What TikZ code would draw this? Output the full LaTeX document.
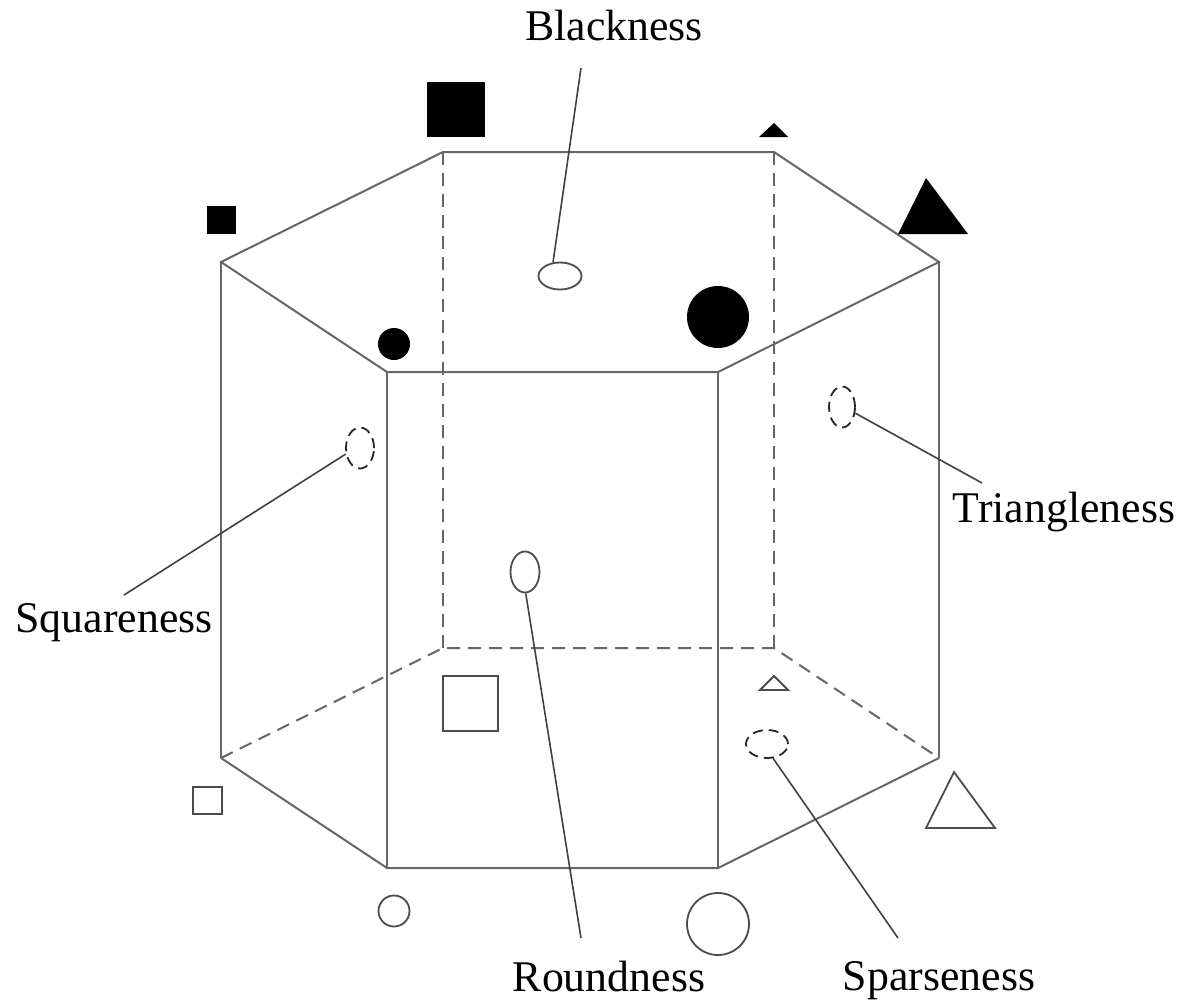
\documentclass[tikz,border=0pt]{standalone}
\usepackage{fontspec}
\setmainfont{Liberation Serif}
\usetikzlibrary{shapes.geometric}
\begin{document}
\begin{tikzpicture}[x=1pt,y=-1pt,
  edge/.style={draw=black!60, line width=2pt, line join=miter},
  hidden/.style={edge, dash pattern=on 13pt off 8pt},
  leader/.style={draw=black!75, line width=1.6pt},
  probe/.style={ellipse, draw=black!70, line width=1.8pt, inner sep=0pt, fill=white},
  hprobe/.style={probe, draw=black!85, dash pattern=on 10pt off 6pt},
  lbl/.style={anchor=base, font=\fontsize{43.8}{50}\selectfont, inner sep=0pt},
  solidmark/.style={fill=black},
  openmark/.style={draw=black!70, line width=1.8pt, fill=white}]
\useasboundingbox (0,0) rectangle (1200,1004);

% prism corners: top face and bottom face
\coordinate (tL)  at (221,262);
\coordinate (tBL) at (443,152);
\coordinate (tBR) at (774,152);
\coordinate (tR)  at (939,262);
\coordinate (tFR) at (718,372);
\coordinate (tFL) at (387,372);
\coordinate (bL)  at (221,758);
\coordinate (bBL) at (443,648);
\coordinate (bBR) at (774,648);
\coordinate (bR)  at (939,758);
\coordinate (bFR) at (718,868);
\coordinate (bFL) at (387,868);

% hidden edges
\draw[hidden] (tBL) -- (bBL);
\draw[hidden] (tBR) -- (bBR);
\draw[hidden] (bL) -- (bBL) -- (bBR) -- (bR);

% visible edges
\draw[edge] (tL) -- (tBL) -- (tBR) -- (tR) -- (tFR) -- (tFL) -- cycle;
\draw[edge] (tL) -- (bL);
\draw[edge] (tFL) -- (bFL);
\draw[edge] (tFR) -- (bFR);
\draw[edge] (tR) -- (bR);
\draw[edge] (bL) -- (bFL) -- (bFR) -- (bR);

% filled markers at the top
\fill[solidmark] (427,82) rectangle (485,137);
\fill[solidmark] (207,206) rectangle (236,234);
\fill[solidmark] (759,137) -- (788,137) -- (774,123) -- cycle;
\fill[solidmark] (898,234) -- (968,234) -- (926,178) -- cycle;
\fill[solidmark] (394,344) circle[radius=16];
\fill[solidmark] (718,317) circle[radius=31];

% open markers at the bottom
\draw[openmark] (443,676) rectangle (498,731);
\draw[openmark] (193,787) rectangle (222,814);
\draw[openmark] (760,690) -- (788,690) -- (774,676) -- cycle;
\draw[openmark] (926,828) -- (995,828) -- (954,772) -- cycle;
\draw[openmark] (394,911) circle[radius=15.5];
\draw[openmark] (718,924) circle[radius=31];

% probes on the faces
\node[probe,  minimum width=43pt, minimum height=27pt] (bk) at (560,276) {};
\node[probe,  minimum width=29pt, minimum height=41pt] (rd) at (525,572) {};
\node[hprobe, minimum width=28pt, minimum height=41pt] (sq) at (360,448) {};
\node[hprobe, minimum width=26pt, minimum height=41pt] (tr) at (842,407) {};
\node[hprobe, minimum width=42pt, minimum height=28pt] (sp) at (767,744) {};

% labels
\node[lbl] (lbk) at (614,40)   {Blackness};
\node[lbl] (ltr) at (1064,522) {Triangleness};
\node[lbl] (lsq) at (114,632)  {Squareness};
\node[lbl] (lrd) at (609,991)  {Roundness};
\node[lbl] (lsp) at (939,990)  {Sparseness};

% leader ends near the labels
\coordinate (ebk) at (581,68);
\coordinate (etr) at (982,483);
\coordinate (esq) at (124,595);
\coordinate (erd) at (581,938);
\coordinate (esp) at (898,938);

\draw[leader] (bk.117) -- (ebk);
\draw[leader] (tr.335) -- (etr);
\draw[leader] (sq.203) -- (esq);
\draw[leader] (rd.272) -- (erd);
\draw[leader] (sp.293) -- (esp);
\end{tikzpicture}
\end{document}
